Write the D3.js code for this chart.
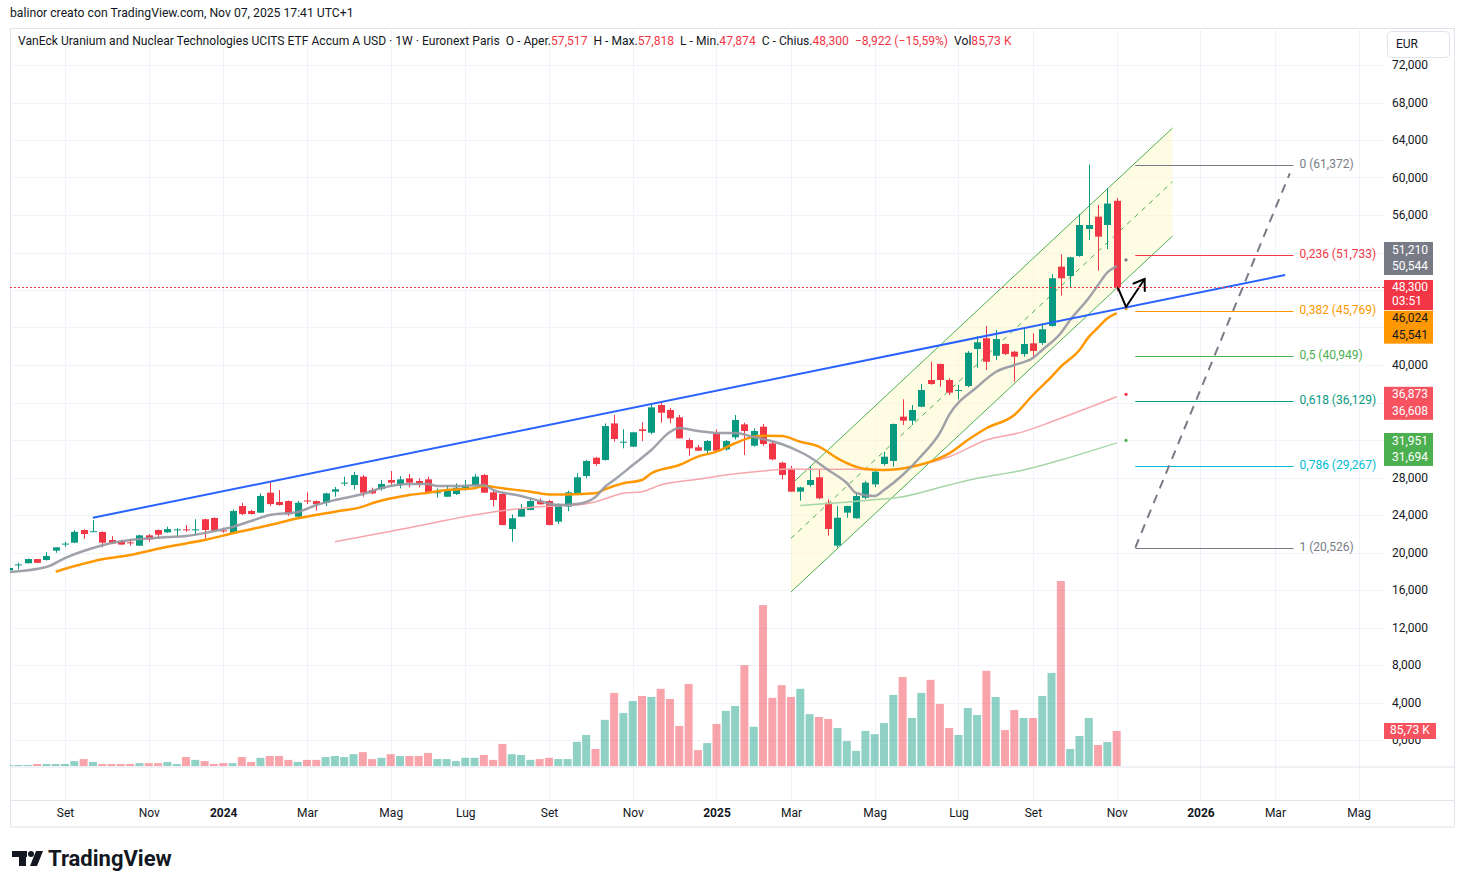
<!DOCTYPE html>
<html><head><meta charset="utf-8">
<script src="https://cdn.jsdelivr.net/npm/d3@7"></script>
<style>body{margin:0;background:#fff;} svg{display:block;font-family:Roboto,"Liberation Sans",sans-serif;}</style>
</head><body><svg id="c" width="1465" height="888"></svg>
<script>
// ---------------- DATA ----------------
const firstWeek = "2023-07-24";   // Monday of first visible weekly bar
const lastWeek  = "2025-11-03";   // Monday of last bar
const open  = [18.10,18.65,18.85,19.30,19.20,20.20,20.85,21.05,22.40,22.20,22.19,21.33,21.20,21.08,20.73,21.83,22.40,22.15,22.40,22.47,22.40,23.55,23.68,22.35,22.05,24.96,24.43,24.25,26.38,25.39,25.49,23.82,25.55,25.49,25.31,26.49,27.40,27.20,28.09,26.67,26.77,27.73,27.27,27.91,27.63,27.80,26.38,25.95,26.24,26.67,27.09,28.27,26.42,26.24,22.50,23.82,24.53,25.49,25.49,23.29,24.89,26.24,28.16,30.11,29.87,33.77,31.75,31.29,33.14,32.78,35.73,35.20,34.42,32.00,31.22,30.86,32.64,31.00,32.29,33.67,31.39,33.42,31.64,29.58,28.91,26.49,27.20,28.02,25.31,20.73,24.25,23.65,25.84,27.27,29.44,29.76,34.49,34.06,35.55,38.40,40.11,38.40,37.28,37.76,41.71,42.85,40.99,42.24,41.42,41.17,42.31,42.35,44.16,50.49,49.49,51.63,54.51,55.82,54.93,57.517];
const high  = [18.40,18.90,19.35,19.30,20.05,20.55,21.15,22.40,22.47,23.47,22.25,21.75,21.35,21.45,21.90,21.97,22.45,22.75,22.60,22.93,23.55,23.60,23.75,22.65,24.60,25.30,24.55,26.30,27.63,26.67,25.55,25.50,26.42,25.55,26.38,27.00,28.09,28.60,28.27,26.91,27.73,28.69,28.16,28.37,27.91,28.09,26.84,27.20,27.38,27.73,28.37,28.37,26.60,26.42,24.07,25.17,25.78,25.78,25.60,25.25,26.60,28.45,29.87,30.20,33.77,34.67,33.14,32.85,33.89,35.73,36.09,35.41,34.67,32.18,31.47,32.00,33.14,32.00,34.67,33.85,33.24,33.71,31.89,29.69,29.23,27.02,29.23,28.91,25.67,24.96,25.00,26.31,27.63,28.87,30.76,33.75,36.34,35.73,37.97,40.35,40.15,38.58,37.87,41.49,43.09,44.16,43.73,42.30,41.50,43.91,43.38,44.44,49.70,51.81,51.55,56.11,61.372,57.07,58.85,57.818];
const low   = [18.05,18.20,18.85,18.85,19.15,19.98,20.60,21.00,21.45,22.20,20.55,20.90,20.80,20.73,20.70,21.15,21.47,22.10,21.70,22.20,21.87,21.47,22.30,22.10,21.95,24.00,24.05,24.25,24.96,25.00,23.90,23.70,25.17,24.46,24.96,25.95,27.10,26.74,25.95,26.20,26.60,27.10,26.84,26.95,26.95,26.38,25.88,25.95,26.13,26.60,26.95,26.38,24.89,22.90,21.15,23.80,24.50,25.10,22.90,23.04,24.40,26.13,27.91,29.23,29.80,31.82,31.11,31.25,31.89,32.61,33.85,33.78,32.15,30.33,30.83,30.50,30.75,30.86,32.06,30.40,31.29,31.39,29.83,27.80,26.49,25.53,27.02,25.67,21.79,20.526,23.71,23.60,25.70,26.99,29.26,29.15,33.60,33.60,35.50,37.90,37.69,36.80,36.34,37.62,39.71,39.47,40.53,41.07,38.22,40.89,40.96,42.13,44.09,47.39,48.29,51.55,53.33,50.06,52.37,47.874];
const close = [18.35,18.73,19.30,18.90,19.63,20.55,20.95,22.20,21.97,22.27,21.05,20.98,20.85,21.00,21.83,21.40,21.90,22.50,22.47,22.40,22.47,22.40,22.33,22.29,24.43,24.10,24.10,26.03,25.17,25.07,24.10,25.31,25.49,25.17,26.31,26.74,27.45,28.27,26.38,26.31,27.31,27.45,27.80,27.45,27.34,26.38,26.42,26.60,26.91,27.13,28.09,26.38,25.60,22.93,23.65,24.71,25.49,25.14,22.93,25.14,26.42,28.02,29.76,29.44,33.49,32.11,31.82,32.82,32.96,35.48,34.91,34.31,32.18,31.11,30.86,31.89,30.86,31.89,34.13,32.96,32.96,31.57,29.93,28.27,26.49,26.95,27.73,25.78,22.51,23.71,24.96,26.03,27.45,28.62,30.22,33.71,34.06,35.20,37.33,37.97,38.40,37.05,37.33,41.31,42.42,40.35,42.77,41.17,40.89,42.24,41.50,43.81,49.25,49.25,51.49,54.93,54.93,53.69,57.222,48.300];
const volumeK = [2.5,2.5,2.5,5,5,5,5,12,17,10,5,5,5,5,7,7,7,10,5,22,15,12,5,7,7,22,10,20,24.5,24.5,15,10,15,15,22,24.5,22,29,34,17,20,29,24.5,24.5,24.5,32,17,17,12,20,20,27,15,54,29,27,15,17,20,17,17,59,76,41.7,113,179,130,159,171.5,169,189,164,98,201,39,56,103,135,147,247,96,394,167,198,169,189,127,120,115,93,61,37,86,78,105,174,218,117.6,179,211,152,93,76,142,125,233,169,88,137,117.6,117.6,171.5,228,453,41.7,73.5,117.6,51.5,58.8,85.73];

// moving averages: [bars ago, value]
const maGray   = [[119,17.92],[115,18.45],[113,19.41],[110,20.48],[108,21.01],[105,21.44],[102,21.65],[100,21.76],[98,22.08],[95,22.72],[93,23.36],[91,24.0],[88,24.32],[86,25.07],[84,25.6],[81,26.24],[79,26.88],[76,27.31],[74,27.31],[73,27.09],[71,27.09],[68,27.2],[67,26.67],[64,26.03],[62,25.49],[60,25.07],[58,25.17],[56,25.92],[55,26.99],[54,27.73],[52,29.33],[50,30.93],[48,32.85],[47,33.28],[45,32.96],[43,32.75],[41,32.75],[39,32.32],[38,32.11],[36,31.57],[34,30.72],[33,30.19],[31,28.8],[29,27.41],[28,26.35],[26,26.03],[25,26.67],[23,28.27],[21,30.29],[19,32.75],[18,34.67],[15,37.65],[13,39.25],[11,40.0],[9,40.75],[8,41.6],[6,43.41],[5,44.8],[3,47.15],[2,48.53],[1,49.87],[0,50.544]];
const maOrange = [[114,17.95],[109,19.27],[106,19.73],[102,20.62],[98,21.33],[95,22.05],[91,22.93],[88,23.65],[84,24.35],[81,24.89],[80,25.25],[76,26.13],[74,26.38],[72,26.67],[69,26.85],[68,27.09],[66,26.85],[63,26.49],[61,26.2],[59,26.2],[56,26.31],[55,26.74],[53,27.38],[51,27.73],[50,28.45],[47,29.33],[45,30.22],[43,30.76],[41,31.65],[39,32.36],[38,32.46],[36,32.43],[34,31.82],[32,31.29],[30,30.05],[28,29.15],[27,28.9],[25,28.8],[22,29.15],[20,29.69],[18,30.58],[16,32.0],[14,33.25],[11,34.67],[9,36.8],[7,38.75],[6,39.82],[4,41.6],[3,43.0],[2,44.0],[1,44.98],[0,45.541]];
const maPink   = [[84,21.15],[76,22.65],[69,24.0],[62,24.89],[58,25.07],[56,25.42],[53,26.31],[51,26.49],[49,27.2],[45,27.81],[42,28.27],[38,28.69],[35,28.91],[32,28.87],[28,28.87],[25,28.8],[22,29.17],[18,30.22],[14,32.0],[10,32.89],[7,33.95],[0,36.608]];
const maGreen  = [[34,25.01],[27,25.55],[23,25.95],[18,27.2],[15,27.91],[10,28.8],[6,29.87],[0,31.694]];
const maNext   = [51.210, 46.024, 36.873, 31.951];   // dots one bar ahead
const maLast   = [50.544, 45.541, 36.608, 31.694];

const priceTicks = [0,4,8,12,16,20,24,28,32,36,40,44,48,52,56,60,64,68,72];
const timeTickDates  = ["2023-09-04","2023-11-06","2024-01-01","2024-03-04","2024-05-06","2024-07-01","2024-09-02","2024-11-04","2025-01-06","2025-03-03","2025-05-05","2025-07-07","2025-09-01","2025-11-03","2026-01-05","2026-03-02","2026-05-04"];
const timeTickLabels = ["Set","Nov","2024","Mar","Mag","Lug","Set","Nov","2025","Mar","Mag","Lug","Set","Nov","2026","Mar","Mag"];

// drawings, [bars ago, price]
const trendBlue   = [[110,23.71],[-18.1,49.6]];
const channelLow  = [[35,15.79],[-6,53.76]];
const channelMid  = [[35,21.51],[-6,59.55]];
const channelHigh = [[35,27.24],[-6,65.28]];
const fibHigh = 61.3724, fibLow = 20.5258;
const fibLevels = [0,0.236,0.382,0.5,0.618,0.786,1];
const fibColors = ["#787b86","#f23645","#ff9800","#4caf50","#089981","#00bcd4","#787b86"];
const fibSpan = [-2,-19];
const fibTrend = [[-2,20.526],[-18.6,60.45]];
const arrowPath = [[-0.1,48.32],[-1,46.19],[-3,49.17]];

// ---------------- SETUP ----------------
const svg = d3.select("#c");
const parse = d3.utcParse("%Y-%m-%d");
const dates = d3.utcMonday.range(parse(firstWeek), d3.utcDay.offset(parse(lastWeek),1));
const lastDate = parse(lastWeek);
const WEEK = 7*864e5;

const x = d3.scaleUtc().domain([parse("2023-09-04"), lastDate]).range([65, 1116.7]);
const xk = k => x(new Date(lastDate.getTime() - k*WEEK));
const y = d3.scaleLinear().domain([0,72]).range([740,65]);
const yv = d3.scaleLinear().domain([0,453]).range([766,581]);

const L=10, R=1384, T=28, B=766;
const fmt3 = v => d3.format(".3f")(v).replace(".",",");
const GREEN="#089981", RED="#f23645";

// frame
svg.append("rect").attr("width",1465).attr("height",888).attr("fill","#fff");
svg.append("text").attr("x",10).attr("y",14).attr("dominant-baseline","middle")
  .attr("font-size",12.2).attr("fill","#131722").text("balinor creato con TradingView.com, Nov 07, 2025 17:41 UTC+1");
svg.append("rect").attr("x",10.5).attr("y",28.5).attr("width",1444).attr("height",799)
  .attr("fill","none").attr("stroke","#e0e3eb");

// grid
const grid = svg.append("g");
grid.selectAll("line.h").data(priceTicks).join("line")
  .attr("x1",L).attr("x2",R).attr("y1",d=>Math.round(y(d))+0.5).attr("y2",d=>Math.round(y(d))+0.5)
  .attr("stroke","#f0f3fa");
grid.selectAll("line.v").data(timeTickDates).join("line")
  .attr("x1",d=>Math.round(x(parse(d)))+0.5).attr("x2",d=>Math.round(x(parse(d)))+0.5)
  .attr("y1",T).attr("y2",800).attr("stroke","#f0f3fa");
svg.append("line").attr("x1",L).attr("x2",1455).attr("y1",767).attr("y2",767).attr("stroke","#e0e3eb");
svg.append("line").attr("x1",L).attr("x2",1455).attr("y1",800.5).attr("y2",800.5).attr("stroke","#e0e3eb");
svg.append("rect").attr("x",10).attr("y",826).attr("width",1445).attr("height",2).attr("fill","#eef0f4");

// clip
svg.append("clipPath").attr("id","clip").append("rect").attr("x",L).attr("y",T).attr("width",R-L).attr("height",B-T+1);
const plot = svg.append("g").attr("clip-path","url(#clip)");

// volume
plot.append("g").selectAll("rect").data(dates).join("rect")
  .attr("x",d=>x(d)-4).attr("width",8)
  .attr("y",(d,i)=>yv(volumeK[i])).attr("height",(d,i)=>766-yv(volumeK[i]))
  .attr("fill",(d,i)=> close[i]>=open[i]?GREEN:RED).attr("fill-opacity",0.45);

// channel
const chPoly = channelHigh.concat(channelLow.slice().reverse()).map(p=>[xk(p[0]),y(p[1])]);
plot.append("path").attr("d",d3.line()(chPoly)+"Z").attr("fill","#fff8c4").attr("fill-opacity",0.45);
[channelHigh, channelLow].forEach(c=>{
  plot.append("path").attr("d",d3.line()(c.map(p=>[xk(p[0]),y(p[1])]))).attr("stroke","#4caf50").attr("stroke-width",1).attr("fill","none");
});
plot.append("path").attr("d",d3.line()(channelMid.map(p=>[xk(p[0]),y(p[1])]))).attr("stroke","#4caf50")
  .attr("stroke-width",1).attr("stroke-dasharray","5,5").attr("fill","none");

// candles
const cg = plot.append("g");
cg.selectAll("line").data(dates).join("line")
  .attr("x1",d=>Math.round(x(d))+0.5).attr("x2",d=>Math.round(x(d))+0.5)
  .attr("y1",(d,i)=>y(high[i])).attr("y2",(d,i)=>y(low[i]))
  .attr("stroke",(d,i)=> close[i]>=open[i]?GREEN:RED).attr("stroke-width",1);
cg.selectAll("rect").data(dates).join("rect")
  .attr("x",d=>Math.round(x(d))-3).attr("width",7)
  .attr("y",(d,i)=>y(Math.max(open[i],close[i])))
  .attr("height",(d,i)=>Math.max(1,Math.abs(y(open[i])-y(close[i]))))
  .attr("fill",(d,i)=> close[i]>=open[i]?GREEN:RED);

// moving averages
const maLine = d3.line().x(p=>xk(p[0])).y(p=>y(p[1])).curve(d3.curveMonotoneX);
const maDefs = [[maGreen,"#a5d6a7",1.5,1],[maPink,"#f7a6ac",1.5,1],[maOrange,"#ff9800",2.5,1],[maGray,"#9598a1",2.5,0.9]];
maDefs.forEach(([d,c,w,o])=>{
  plot.append("path").attr("d",maLine(d.slice().sort((a,b)=>b[0]-a[0]))).attr("fill","none")
    .attr("stroke",c).attr("stroke-width",w).attr("stroke-opacity",o).attr("stroke-linejoin","round");
});
const dotCols = ["#787b86","#ff9800","#f23645","#4caf50"];
plot.selectAll("circle.nx").data(maNext).join("circle").attr("cx",xk(-1)).attr("cy",d=>y(d)).attr("r",1.6)
  .attr("fill",(d,i)=>dotCols[i]);

// blue trend line
plot.append("path").attr("d",d3.line()(trendBlue.map(p=>[xk(p[0]),y(p[1])]))).attr("stroke","#2962ff")
  .attr("stroke-width",2).attr("fill","none");

// fib retracement
const fibG = plot.append("g");
fibLevels.forEach((lv,i)=>{
  const v = fibHigh - lv*(fibHigh-fibLow);
  fibG.append("line").attr("x1",xk(fibSpan[0])).attr("x2",xk(fibSpan[1]))
    .attr("y1",Math.round(y(v))+0.5).attr("y2",Math.round(y(v))+0.5).attr("stroke",fibColors[i]).attr("stroke-width",1.2);
  fibG.append("text").attr("x",xk(fibSpan[1])+6).attr("y",y(v)).attr("dominant-baseline","middle")
    .attr("font-size",12).attr("fill",fibColors[i])
    .text(String(lv).replace(".",",")+" ("+fmt3(v)+")");
});
fibG.append("path").attr("d",d3.line()(fibTrend.map(p=>[xk(p[0]),y(p[1])]))).attr("stroke","#787b86")
  .attr("stroke-width",2).attr("stroke-dasharray","9,7").attr("fill","none");

// arrow
const ap = arrowPath.map(p=>[xk(p[0]),y(p[1])]);
plot.append("path").attr("d",d3.line()(ap)).attr("stroke","#000").attr("stroke-width",2).attr("fill","none").attr("stroke-linejoin","round");
{
  const [a,b]=[ap[1],ap[2]]; const ang=Math.atan2(b[1]-a[1],b[0]-a[0]); const hl=12;
  const p1=[b[0]-hl*Math.cos(ang-0.6),b[1]-hl*Math.sin(ang-0.6)], p2=[b[0]-hl*Math.cos(ang+0.6),b[1]-hl*Math.sin(ang+0.6)];
  plot.append("path").attr("d",d3.line()([p1,b,p2])).attr("stroke","#000").attr("stroke-width",2).attr("fill","none").attr("stroke-linecap","round");
}

// last price line
const lastC = close[close.length-1];
svg.append("line").attr("x1",L).attr("x2",R).attr("y1",Math.round(y(lastC))+0.5).attr("y2",Math.round(y(lastC))+0.5)
  .attr("stroke",RED).attr("stroke-width",1).attr("stroke-dasharray","2,2");

// axis label boxes (computed first so that covered ticks can be hidden)
const redTop = y(lastC)-7.2, redH=30, H=33;
const pairs = [
  {v:maNext[0], v2:maLast[0], bg:"#787b86", fg:"#fff"},
  {v:maNext[1], v2:maLast[1], bg:"#ff9800", fg:"#131722"},
  {v:maNext[2], v2:maLast[2], bg:"#f7525f", fg:"#fff"},
  {v:maNext[3], v2:maLast[3], bg:"#4caf50", fg:"#fff"}
];
pairs.forEach(p=>{
  let top = y(p.v)-7.5;
  if (p.v>lastC && top+H > redTop-5) top = redTop-5-H;
  if (p.v<lastC && top < redTop+redH+0.7) top = redTop+redH+0.7;
  p.top = top;
});
const boxes = pairs.map(p=>[p.top,p.top+H]).concat([[redTop,redTop+redH]]);

// price axis
const visibleTicks = priceTicks.filter(t=>{
  const ty=y(t); return !boxes.some(([a,b])=> ty+7>a && ty-7<b);
});
const ya = svg.append("g").attr("transform",`translate(${R},0)`)
  .call(d3.axisRight(y).tickValues(visibleTicks).tickSize(0).tickPadding(8).tickFormat(fmt3));
ya.select(".domain").remove();
ya.selectAll("text").attr("font-size",12).attr("fill","#131722").attr("font-family","Roboto");

// time axis
const xa = svg.append("g").attr("transform","translate(0,800)")
  .call(d3.axisBottom(x).tickValues(timeTickDates.map(parse)).tickSize(0).tickPadding(8).tickFormat((d,i)=>timeTickLabels[i]));
xa.select(".domain").remove();
xa.selectAll("text").attr("font-size",12).attr("fill","#131722").attr("font-family","Roboto")
  .attr("font-weight",(d,i)=>/^\d/.test(timeTickLabels[i])?"bold":"normal");

// EUR button
svg.append("rect").attr("x",1387.5).attr("y",31.5).attr("width",62).attr("height",26).attr("rx",4)
  .attr("fill","#fff").attr("stroke","#e0e3eb");
svg.append("text").attr("x",1396).attr("y",45).attr("dominant-baseline","middle").attr("font-size",12).attr("fill","#131722").text("EUR");

// axis labels
pairs.forEach(p=>{
  svg.append("rect").attr("x",1384).attr("y",p.top).attr("width",49).attr("height",H).attr("fill",p.bg);
  svg.append("text").attr("x",1392).attr("y",p.top+8.5).attr("dominant-baseline","middle").attr("font-size",12).attr("fill",p.fg).text(fmt3(p.v));
  svg.append("text").attr("x",1392).attr("y",p.top+25).attr("dominant-baseline","middle").attr("font-size",12).attr("fill",p.fg).text(fmt3(p.v2));
});
svg.append("rect").attr("x",1384).attr("y",redTop).attr("width",49).attr("height",redH).attr("fill",RED);
svg.append("text").attr("x",1392).attr("y",redTop+8).attr("dominant-baseline","middle").attr("font-size",12).attr("fill","#fff").text(fmt3(lastC));
svg.append("text").attr("x",1392).attr("y",redTop+22).attr("dominant-baseline","middle").attr("font-size",12).attr("fill","#fff").text("03:51");
const lastV = volumeK[volumeK.length-1];
svg.append("rect").attr("x",1384).attr("y",yv(lastV)-8).attr("width",52).attr("height",16).attr("fill","#f7525f");
svg.append("text").attr("x",1390).attr("y",yv(lastV)).attr("dominant-baseline","middle").attr("font-size",12).attr("fill","#fff")
  .text(d3.format(".2f")(lastV).replace(".",",")+" K");

// legend header
const hdr = svg.append("text").attr("x",18).attr("y",42).attr("dominant-baseline","middle").attr("font-size",12.1).attr("fill","#131722");
const o0=open[open.length-1], h0=high[high.length-1], l0=low[low.length-1], c0=lastC, pc=close[close.length-2];
const chg=c0-pc, pct=chg/pc*100;
const parts = [
  ["VanEck Uranium and Nuclear Technologies UCITS ETF Accum A USD · 1W · Euronext Paris  O - Aper.","#131722"],
  [fmt3(o0),RED],["  H - Max.","#131722"],[fmt3(h0),RED],["  L - Min.","#131722"],[fmt3(l0),RED],
  ["  C - Chius.","#131722"],[fmt3(c0),RED],
  ["  "+(chg<0?"−":"+")+fmt3(Math.abs(chg))+" ("+(chg<0?"−":"+")+d3.format(".2f")(Math.abs(pct)).replace(".",",")+"%)",RED],
  ["  Vol","#131722"],[d3.format(".2f")(lastV).replace(".",",")+" K",RED]
];
parts.forEach(([t,c])=>hdr.append("tspan").attr("fill",c).attr("xml:space","preserve").style("white-space","pre").text(t));

// TradingView logo
const lg = svg.append("g").attr("fill","#131722");
lg.append("rect").attr("x",12).attr("y",851).attr("width",15).attr("height",6);
lg.append("rect").attr("x",19).attr("y",851).attr("width",7).attr("height",15);
lg.append("circle").attr("cx",31).attr("cy",854).attr("r",3);
lg.append("path").attr("d","M36,851 L43,851 L37,866 L30,866 Z");
svg.append("text").attr("x",48).attr("y",866).attr("font-size",22).attr("font-weight","bold").attr("fill","#131722")
  .text("TradingView");
</script></body></html>
